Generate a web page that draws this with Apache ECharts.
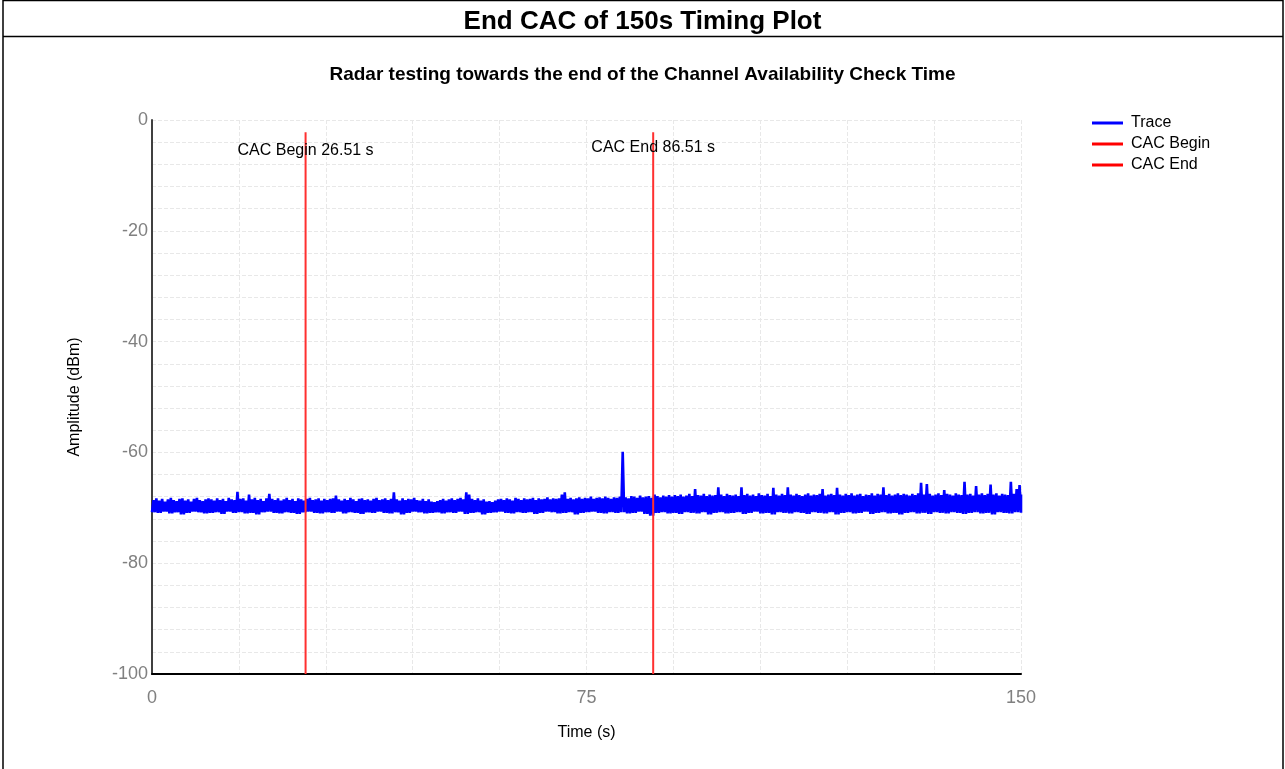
<!DOCTYPE html>
<html>
<head>
<meta charset="utf-8">
<script src="https://cdn.jsdelivr.net/npm/echarts@6/dist/echarts.min.js"></script>
<style>
html,body{margin:0;padding:0;background:#fff;}
#chart{width:1285px;height:769px;}
</style>
</head>
<body>
<div id="chart"></div>
<script>
// ---- Data ----
const mainTitle = 'End CAC of 150s Timing Plot';
const subTitle = 'Radar testing towards the end of the Channel Availability Check Time';
const seriesNames = ['Trace', 'CAC Begin', 'CAC End'];
const xTicks = [0, 75, 150];
const yTicks = [0, -20, -40, -60, -80, -100];

// CAC marker times (s) and top of marker lines (dBm)
const cacBeginTime = 26.51;
const cacEndTime = 86.51;
const markerTop = -2.2;
const markerLabels = ['CAC Begin 26.51 s', 'CAC End 86.51 s'];

// Trace upper envelope, one value per 0.5 s from 0 to 150 s (dBm)
const traceStep = 0.5;
const traceHigh = [
 -68.6,-68.3,-68.7,-68.4,-68.9,-68.5,-68.2,-68.6,-68.8,-68.4,-68.3,-68.7,-68.5,-68.9,-68.4,-68.2,-68.6,-68.8,-68.5,-68.3,
 -68.5,-68.7,-68.3,-68.6,-68.4,-68.8,-68.2,-68.5,-68.6,-67.1,-68.4,-68.3,-68.7,-67.6,-68.5,-68.2,-68.6,-68.4,-68.8,-68.3,
 -67.5,-68.4,-68.6,-68.3,-68.7,-68.5,-68.2,-68.6,-68.4,-68.8,-68.3,-68.5,-68.7,-68.4,-68.2,-68.6,-68.5,-68.3,-68.7,-68.4,
 -68.6,-68.4,-68.3,-67.8,-68.5,-68.7,-68.4,-68.6,-68.2,-68.5,-68.8,-68.4,-68.3,-68.6,-68.5,-68.7,-68.4,-68.2,-68.6,-68.5,
 -68.3,-68.6,-68.4,-67.2,-68.5,-68.7,-68.3,-68.6,-68.4,-68.5,-68.2,-68.6,-68.7,-68.4,-68.8,-68.5,-68.9,-69.0,-68.8,-68.6,
 -68.4,-68.7,-68.5,-68.3,-68.6,-68.4,-68.2,-68.5,-67.2,-67.6,-68.4,-68.6,-68.3,-68.7,-68.5,-68.9,-68.8,-69.0,-68.7,-68.5,
 -68.4,-68.6,-68.3,-68.5,-68.7,-68.2,-68.4,-68.6,-68.3,-68.5,-68.4,-68.2,-68.6,-68.3,-68.5,-68.4,-68.1,-68.5,-68.3,-68.4,
 -68.3,-67.6,-67.2,-68.4,-68.2,-68.5,-68.3,-68.1,-68.4,-68.2,-68.3,-68.0,-68.4,-68.2,-68.1,-68.3,-68.0,-68.2,-68.4,-68.1,
 -68.2,-68.0,-59.9,-68.1,-68.3,-67.9,-68.0,-68.2,-67.8,-68.1,-68.0,-67.9,-68.2,-67.6,-67.9,-68.1,-67.8,-68.0,-67.7,-68.0,
 -67.7,-67.9,-67.6,-68.0,-67.8,-67.5,-67.9,-66.6,-67.7,-67.8,-67.5,-67.9,-67.6,-67.8,-67.7,-66.3,-67.6,-67.9,-67.5,-67.7,
 -67.8,-67.6,-67.9,-66.3,-67.7,-67.5,-67.8,-67.6,-67.9,-67.4,-67.7,-67.8,-67.5,-67.9,-66.4,-67.6,-67.8,-67.5,-67.7,-66.3,
 -67.6,-67.8,-67.5,-67.7,-67.9,-67.6,-67.4,-67.8,-67.6,-67.7,-67.5,-66.6,-67.8,-67.6,-67.5,-67.7,-66.4,-67.6,-67.8,-67.5,
 -67.7,-67.4,-67.8,-67.6,-67.5,-67.9,-67.6,-67.7,-67.4,-67.8,-67.5,-67.6,-66.3,-67.7,-67.5,-67.8,-67.6,-67.4,-67.7,-67.5,
 -67.6,-67.8,-67.5,-67.7,-67.4,-65.5,-67.6,-65.7,-67.5,-67.8,-67.6,-67.4,-67.7,-66.8,-67.5,-67.6,-67.8,-67.4,-67.6,-67.7,
 -65.3,-67.6,-67.5,-67.8,-66.1,-67.6,-67.4,-67.7,-67.5,-65.8,-67.6,-67.4,-67.8,-67.5,-67.6,-67.7,-65.3,-67.5,-66.6,-65.9,
 -67.6
];

// Trace lower envelope, one value per 1 s from 0 to 150 s (dBm)
const traceLow = [
 -70.8,-70.9,-70.7,-71.0,-70.8,-71.2,-70.9,-70.7,-70.8,-71.0,
 -70.9,-70.8,-71.1,-70.7,-70.9,-70.8,-71.0,-70.9,-71.2,-70.8,
 -70.7,-70.9,-71.0,-70.8,-70.9,-71.1,-70.8,-70.7,-70.9,-71.0,
 -70.8,-70.9,-70.7,-71.0,-70.8,-70.9,-71.1,-70.8,-70.9,-70.7,
 -70.9,-71.0,-70.8,-71.2,-70.9,-70.7,-70.8,-71.0,-70.9,-70.8,
 -71.0,-70.8,-70.9,-70.7,-71.1,-70.9,-70.8,-71.2,-70.9,-70.8,
 -70.7,-70.9,-71.0,-70.8,-70.9,-70.8,-71.1,-70.9,-70.7,-70.8,
 -71.0,-70.9,-70.8,-71.2,-70.9,-70.8,-70.7,-70.9,-71.0,-70.8,
 -70.9,-70.8,-71.0,-70.9,-70.7,-71.1,-71.4,-70.9,-70.8,-71.0,
 -70.9,-71.1,-70.8,-70.9,-71.0,-70.8,-71.2,-70.9,-70.8,-71.0,
 -70.9,-70.8,-71.1,-70.9,-70.7,-71.0,-70.9,-71.2,-70.8,-70.9,
 -71.0,-70.8,-70.9,-71.1,-70.8,-70.9,-71.0,-70.8,-71.2,-70.9,
 -70.8,-71.0,-70.9,-70.7,-71.1,-70.9,-70.8,-71.0,-70.9,-71.2,
 -70.9,-70.8,-71.0,-70.9,-71.1,-70.8,-70.9,-71.0,-70.8,-70.9,
 -71.1,-70.9,-70.8,-71.0,-70.9,-71.2,-70.8,-70.9,-71.0,-70.8,
 -70.9
];

// ---- Build the dense trace (alternating low / high samples) ----
const traceData = [];
for (let k = 0; k < traceHigh.length; k++) {
  const t = k * traceStep;
  const lo = traceLow[Math.min(Math.floor(t), traceLow.length - 1)];
  traceData.push([t, lo]);
  traceData.push([Math.min(t + traceStep / 2, 150), traceHigh[k]]);
}

const FONT = '"Liberation Sans", Arial, sans-serif';
const chart = echarts.init(document.getElementById('chart'), null, {renderer: 'canvas'});

function markerSeries(name, time, label, labelOffsetY) {
  return {
    name: name,
    type: 'line',
    data: [
      {value: [time, markerTop], label: {show: true, formatter: label, position: 'bottom', distance: 0, offset: [0, labelOffsetY], color: '#000', fontSize: 16, fontFamily: FONT}},
      {value: [time, yTicks[yTicks.length - 1]]}
    ],
    showSymbol: true,
    symbol: 'circle',
    symbolSize: 0,
    lineStyle: {color: '#ff3030', width: 2},
    itemStyle: {color: '#ff0000'},
    silent: true,
    animation: false,
    z: 3
  };
}

chart.setOption({
  animation: false,
  backgroundColor: '#fff',
  title: [
    {text: mainTitle, left: 'center', top: 4, textStyle: {fontSize: 26, fontWeight: 'bold', color: '#000', fontFamily: FONT}},
    {text: subTitle, left: 'center', top: 60, textStyle: {fontSize: 19, fontWeight: 'bold', color: '#000', fontFamily: FONT}}
  ],
  graphic: [
    {type: 'rect', shape: {x: 3, y: 0.5, width: 1280, height: 780}, style: {fill: 'none', stroke: '#000', lineWidth: 1.5}, silent: true, z: 100},
    {type: 'line', shape: {x1: 3, y1: 36.5, x2: 1283, y2: 36.5}, style: {stroke: '#000', lineWidth: 1.5}, silent: true, z: 100}
  ],
  legend: {
    data: seriesNames,
    orient: 'vertical',
    left: 1087,
    top: 110,
    icon: 'rect',
    itemWidth: 31,
    itemHeight: 3,
    itemGap: 5,
    textStyle: {color: '#000', fontSize: 16, fontFamily: FONT, padding: [0, 0, 0, 3]},
    selectedMode: false
  },
  grid: {left: 152, right: 264, top: 120, bottom: 95, containLabel: false},
  xAxis: {
    type: 'value',
    min: xTicks[0],
    max: xTicks[xTicks.length - 1],
    interval: 75,
    name: 'Time (s)',
    nameLocation: 'middle',
    nameGap: 51,
    nameTextStyle: {color: '#000', fontSize: 16, fontFamily: FONT},
    axisLine: {show: true, onZero: false, lineStyle: {color: '#000', width: 2}},
    axisTick: {show: false},
    axisLabel: {color: '#808080', fontSize: 18, fontFamily: FONT, margin: 15},
    splitLine: {show: true, lineStyle: {color: '#e8e8e8', type: 'dashed', width: 1}},
    minorTick: {show: false, splitNumber: 5},
    minorSplitLine: {show: true, lineStyle: {color: '#e8e8e8', type: 'dashed', width: 1}}
  },
  yAxis: {
    type: 'value',
    min: yTicks[yTicks.length - 1],
    max: yTicks[0],
    interval: 20,
    name: 'Amplitude (dBm)',
    nameLocation: 'middle',
    nameGap: 69,
    nameRotate: 90,
    nameTextStyle: {color: '#000', fontSize: 16, fontFamily: FONT},
    axisLine: {show: true, onZero: false, lineStyle: {color: '#404040', width: 2}},
    axisTick: {show: false},
    axisLabel: {color: '#808080', fontSize: 18, fontFamily: FONT, margin: 4},
    splitLine: {show: true, lineStyle: {color: '#e8e8e8', type: 'dashed', width: 1}},
    minorTick: {show: false, splitNumber: 5},
    minorSplitLine: {show: true, lineStyle: {color: '#e8e8e8', type: 'dashed', width: 1}}
  },
  series: [
    {
      name: seriesNames[0],
      type: 'line',
      data: traceData,
      showSymbol: false,
      symbol: 'none',
      lineStyle: {color: '#0000ff', width: 2.6},
      itemStyle: {color: '#0000ff'},
      sampling: null,
      silent: true,
      z: 2
    },
    markerSeries(seriesNames[1], cacBeginTime, markerLabels[0], 10),
    markerSeries(seriesNames[2], cacEndTime, markerLabels[1], 7)
  ]
});
</script>
</body>
</html>
